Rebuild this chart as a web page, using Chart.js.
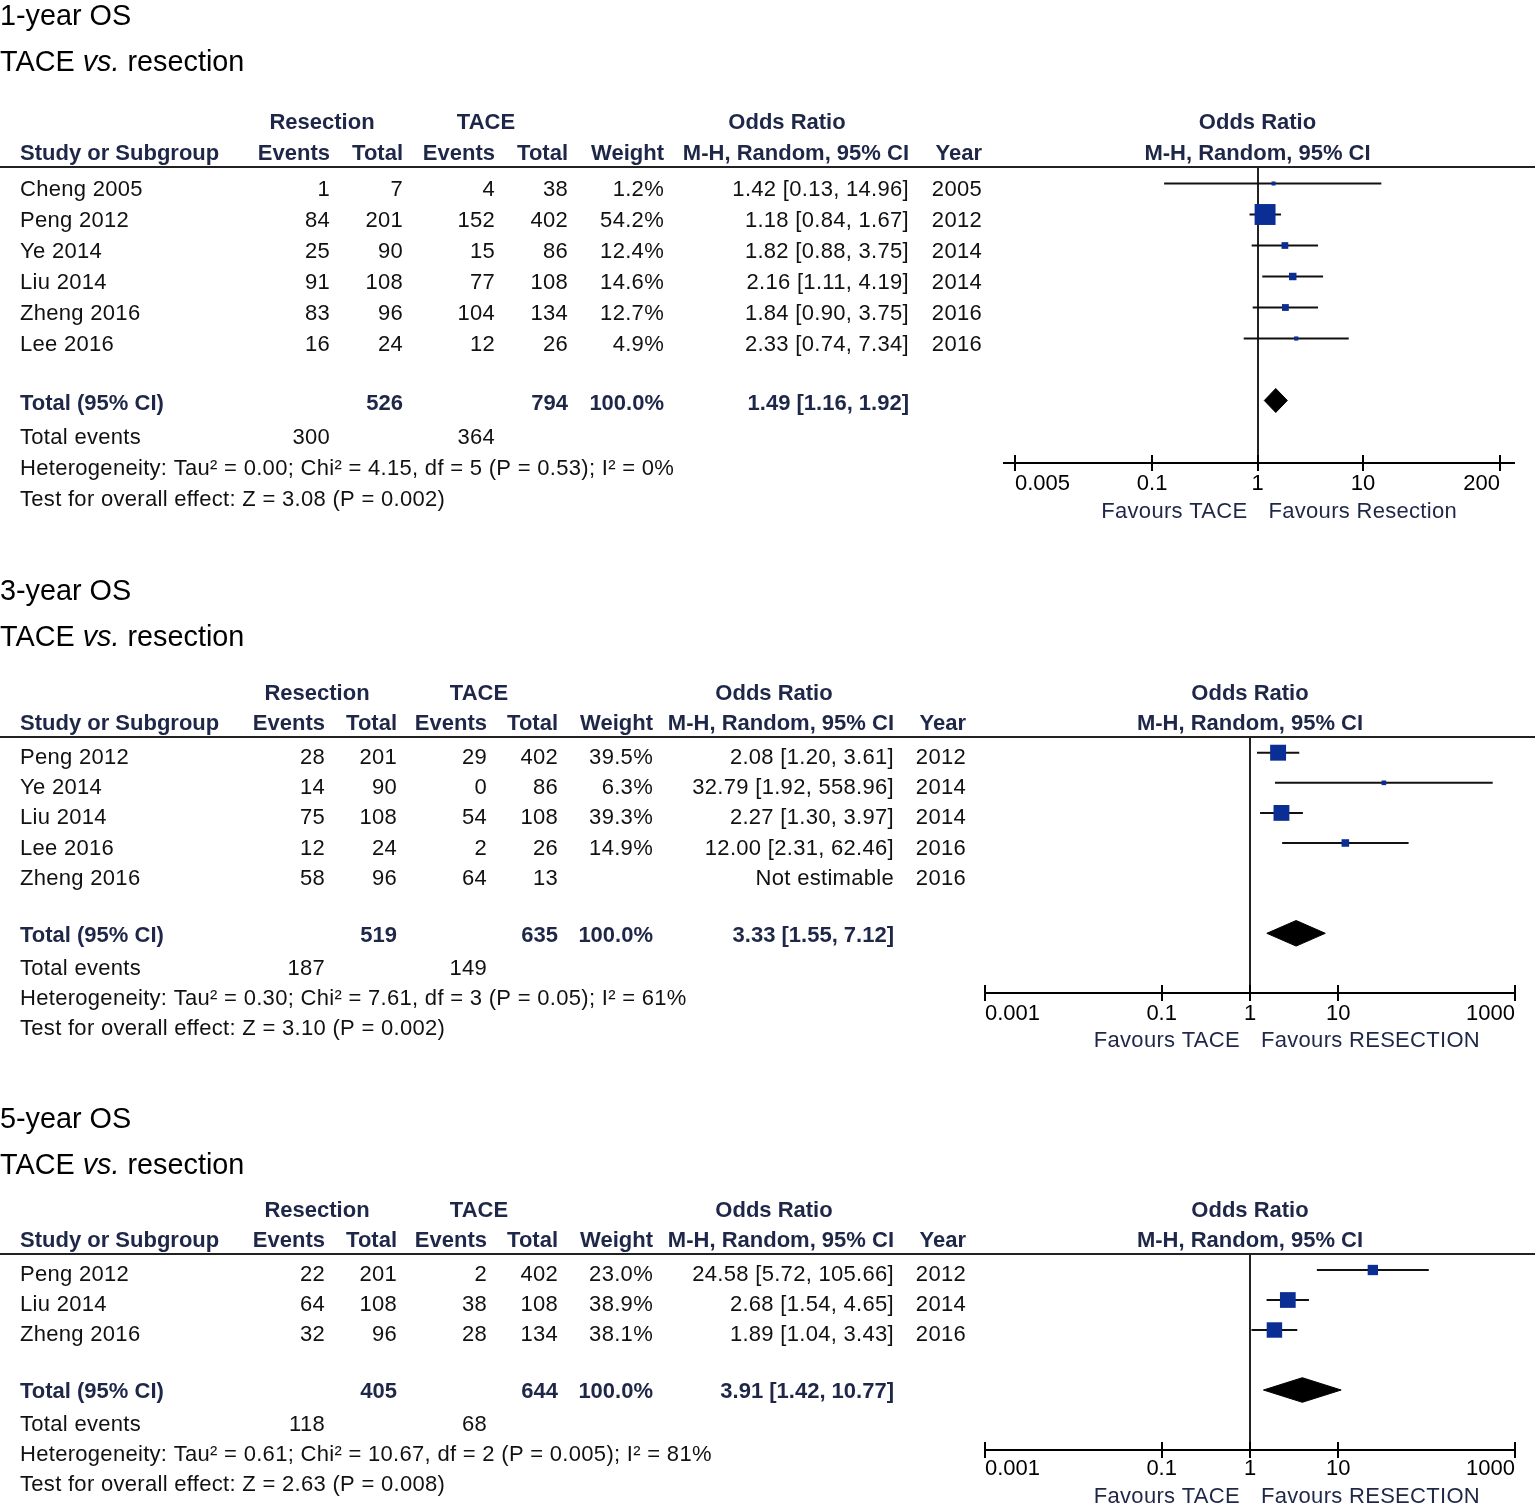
<!DOCTYPE html>
<html>
<head>
<meta charset="utf-8">
<script src="https://cdn.jsdelivr.net/npm/chart.js@4.4.1/dist/chart.umd.min.js"></script>
<style>
  body { margin: 0; background: #fff; width: 1535px; height: 1504px; position: relative; overflow: hidden;
         font-family: "Liberation Sans", Arial, Helvetica, sans-serif; }
  canvas { position: absolute; left: 0; }
  .title { position: absolute; left: 0; font-size: 28.8px; line-height: 32px; color: #000; white-space: nowrap; z-index: 2; }
</style>
</head>
<body>
<div class="title" style="top:-1px">1-year OS</div>
<div class="title" style="top:45px">TACE <i>vs.</i> resection</div>
<div class="title" style="top:574px">3-year OS</div>
<div class="title" style="top:620px">TACE <i>vs.</i> resection</div>
<div class="title" style="top:1102px">5-year OS</div>
<div class="title" style="top:1148px">TACE <i>vs.</i> resection</div>

<canvas id="os1" width="1535" height="535" style="top:0px"></canvas>
<canvas id="os3" width="1535" height="520" style="top:540px"></canvas>
<canvas id="os5" width="1535" height="440" style="top:1064px"></canvas>

<script>
const FONT = '"Liberation Sans", Arial, Helvetica, sans-serif';
const NAVY = '#1f2748';

// 1-year OS
const os1Studies = ['Cheng 2005', 'Peng 2012', 'Ye 2014', 'Liu 2014', 'Zheng 2016', 'Lee 2016'];
const os1ResEvents = [1, 84, 25, 91, 83, 16];
const os1ResTotal = [7, 201, 90, 108, 96, 24];
const os1TaceEvents = [4, 152, 15, 77, 104, 12];
const os1TaceTotal = [38, 402, 86, 108, 134, 26];
const os1Weight = [1.2, 54.2, 12.4, 14.6, 12.7, 4.9];
const os1OR = [1.42, 1.18, 1.82, 2.16, 1.84, 2.33];
const os1Lower = [0.13, 0.84, 0.88, 1.11, 0.90, 0.74];
const os1Upper = [14.96, 1.67, 3.75, 4.19, 3.75, 7.34];
const os1Year = [2005, 2012, 2014, 2014, 2016, 2016];
const os1Pooled = [1.49, 1.16, 1.92];
const os1TotalN = [526, 794];
const os1TotalEvents = [300, 364];
const os1Hetero = 'Heterogeneity: Tau² = 0.00; Chi² = 4.15, df = 5 (P = 0.53); I² = 0%';
const os1Effect = 'Test for overall effect: Z = 3.08 (P = 0.002)';
const os1Ticks = [0.005, 0.1, 1, 10, 200];
const os1TickLabels = ['0.005', '0.1', '1', '10', '200'];
const os1Favours = ['Favours TACE', 'Favours Resection'];

// 3-year OS
const os3Studies = ['Peng 2012', 'Ye 2014', 'Liu 2014', 'Lee 2016', 'Zheng 2016'];
const os3ResEvents = [28, 14, 75, 12, 58];
const os3ResTotal = [201, 90, 108, 24, 96];
const os3TaceEvents = [29, 0, 54, 2, 64];
const os3TaceTotal = [402, 86, 108, 26, 13];
const os3Weight = [39.5, 6.3, 39.3, 14.9, null];
const os3OR = [2.08, 32.79, 2.27, 12.00, null];
const os3Lower = [1.20, 1.92, 1.30, 2.31, null];
const os3Upper = [3.61, 558.96, 3.97, 62.46, null];
const os3Year = [2012, 2014, 2014, 2016, 2016];
const os3Pooled = [3.33, 1.55, 7.12];
const os3TotalN = [519, 635];
const os3TotalEvents = [187, 149];
const os3Hetero = 'Heterogeneity: Tau² = 0.30; Chi² = 7.61, df = 3 (P = 0.05); I² = 61%';
const os3Effect = 'Test for overall effect: Z = 3.10 (P = 0.002)';
const os3Ticks = [0.001, 0.1, 1, 10, 1000];
const os3TickLabels = ['0.001', '0.1', '1', '10', '1000'];
const os3Favours = ['Favours TACE', 'Favours RESECTION'];

// 5-year OS
const os5Studies = ['Peng 2012', 'Liu 2014', 'Zheng 2016'];
const os5ResEvents = [22, 64, 32];
const os5ResTotal = [201, 108, 96];
const os5TaceEvents = [2, 38, 28];
const os5TaceTotal = [402, 108, 134];
const os5Weight = [23.0, 38.9, 38.1];
const os5OR = [24.58, 2.68, 1.89];
const os5Lower = [5.72, 1.54, 1.04];
const os5Upper = [105.66, 4.65, 3.43];
const os5Year = [2012, 2014, 2016];
const os5Pooled = [3.91, 1.42, 10.77];
const os5TotalN = [405, 644];
const os5TotalEvents = [118, 68];
const os5Hetero = 'Heterogeneity: Tau² = 0.61; Chi² = 10.67, df = 2 (P = 0.005); I² = 81%';
const os5Effect = 'Test for overall effect: Z = 2.63 (P = 0.008)';
const os5Ticks = [0.001, 0.1, 1, 10, 1000];
const os5TickLabels = ['0.001', '0.1', '1', '10', '1000'];
const os5Favours = ['Favours TACE', 'Favours RESECTION'];

// column layout of the table part
const colsWide = { name: 20, resEv: 330, resTot: 403, taceEv: 495, taceTot: 568, weight: 664, or: 909, year: 982,
                   resMid: 322, taceMid: 486, orMid: 787 };
const colsNarrow = { name: 20, resEv: 325, resTot: 397, taceEv: 487, taceTot: 558, weight: 653, or: 894, year: 966,
                     resMid: 317, taceMid: 479, orMid: 774 };

function put(ctx, s, x, y, align, bold, color) {
  ctx.font = (bold ? 'bold ' : '') + '22px ' + FONT;
  ctx.letterSpacing = bold ? '0px' : '0.3px';
  ctx.textAlign = align;
  ctx.textBaseline = 'alphabetic';
  ctx.fillStyle = color || (bold ? NAVY : '#111');
  ctx.fillText(s, x, y + 8);
}

function fmtOR(or, lo, hi) {
  if (or == null) return 'Not estimable';
  return or.toFixed(2) + ' [' + lo.toFixed(2) + ', ' + hi.toFixed(2) + ']';
}

// side of the weight box, px
function boxSide(w) {
  return Math.max(4, 2.5 + 0.34 * w);
}

function tablePlugin(d, lay) {
  return {
    id: 'table',
    afterDraw(chart) {
      const ctx = chart.ctx;
      const a = chart.chartArea;
      const xs = chart.scales.x, ys = chart.scales.y;
      const c = lay.cols;
      const n = d.studies.length;
      const rowY = r => ys.getPixelForValue(r) + lay.textShift;
      ctx.save();

      // rule under the headings
      ctx.fillStyle = '#222';
      ctx.fillRect(0, a.top - 1, chart.width, 2);

      // headings
      const h1 = a.top - lay.head1, h2 = a.top - 15;
      put(ctx, 'Resection', c.resMid, h1, 'center', true);
      put(ctx, 'TACE', c.taceMid, h1, 'center', true);
      put(ctx, 'Odds Ratio', c.orMid, h1, 'center', true);
      put(ctx, 'Study or Subgroup', c.name, h2, 'left', true);
      put(ctx, 'Events', c.resEv, h2, 'right', true);
      put(ctx, 'Total', c.resTot, h2, 'right', true);
      put(ctx, 'Events', c.taceEv, h2, 'right', true);
      put(ctx, 'Total', c.taceTot, h2, 'right', true);
      put(ctx, 'Weight', c.weight, h2, 'right', true);
      put(ctx, 'M-H, Random, 95% CI', c.or, h2, 'right', true);
      put(ctx, 'Year', c.year, h2, 'right', true);
      const mid = (a.left + a.right) / 2;
      put(ctx, 'Odds Ratio', mid, h1, 'center', true);
      put(ctx, 'M-H, Random, 95% CI', mid, h2, 'center', true);

      // study rows
      d.studies.forEach((s, i) => {
        const y = rowY(i);
        put(ctx, s, c.name, y, 'left');
        put(ctx, String(d.resEv[i]), c.resEv, y, 'right');
        put(ctx, String(d.resTot[i]), c.resTot, y, 'right');
        put(ctx, String(d.taceEv[i]), c.taceEv, y, 'right');
        put(ctx, String(d.taceTot[i]), c.taceTot, y, 'right');
        if (d.weight[i] != null) put(ctx, d.weight[i].toFixed(1) + '%', c.weight, y, 'right');
        put(ctx, fmtOR(d.or[i], d.lo[i], d.hi[i]), c.or, y, 'right');
        put(ctx, String(d.year[i]), c.year, y, 'right');
      });

      // totals
      let y = rowY(n + 1) - 3;
      put(ctx, 'Total (95% CI)', c.name, y, 'left', true);
      put(ctx, String(d.totalN[0]), c.resTot, y, 'right', true);
      put(ctx, String(d.totalN[1]), c.taceTot, y, 'right', true);
      put(ctx, '100.0%', c.weight, y, 'right', true);
      put(ctx, fmtOR(d.pooled[0], d.pooled[1], d.pooled[2]), c.or, y, 'right', true);
      y = rowY(n + 2);
      put(ctx, 'Total events', c.name, y, 'left');
      put(ctx, String(d.totalEvents[0]), c.resEv, y, 'right');
      put(ctx, String(d.totalEvents[1]), c.taceEv, y, 'right');
      put(ctx, d.hetero, c.name, rowY(n + 3), 'left');
      put(ctx, d.effect, c.name, rowY(n + 4), 'left');

      // upper half of the axis ticks, and axis overhang
      ctx.strokeStyle = '#000';
      ctx.lineWidth = 2;
      ctx.beginPath();
      d.ticks.forEach(v => {
        const x = Math.round(xs.getPixelForValue(v));
        ctx.moveTo(x, a.bottom - 8);
        ctx.lineTo(x, a.bottom);
      });
      if (lay.extend) {
        ctx.moveTo(a.left - lay.extend[0], a.bottom);
        ctx.lineTo(a.left, a.bottom);
        ctx.moveTo(a.right, a.bottom);
        ctx.lineTo(a.right + lay.extend[1], a.bottom);
      }
      ctx.stroke();

      // favours labels
      const x1 = xs.getPixelForValue(1);
      put(ctx, d.favours[0], x1 - 10, a.bottom + lay.favours, 'right', false, NAVY);
      put(ctx, d.favours[1], x1 + 11, a.bottom + lay.favours, 'left', false, NAVY);
      ctx.restore();
    }
  };
}

function makePanel(id, d, lay) {
  const n = d.studies.length;
  const rowTotal = n + 1;
  const yMin = -lay.firstRow / lay.step;
  const yMax = yMin + (lay.axis - lay.header) / lay.step;
  const half = lay.diamond / lay.step;

  const boxPts = [], boxR = [], ciSets = [];
  d.studies.forEach((s, i) => {
    if (d.or[i] == null) return;
    boxPts.push({ x: d.or[i], y: i });
    boxR.push(boxSide(d.weight[i]) / Math.SQRT2);
    ciSets.push({
      order: 2, showLine: true, pointRadius: 0, borderColor: '#111', borderWidth: 2,
      data: [{ x: d.lo[i], y: i }, { x: d.hi[i], y: i }]
    });
  });

  const boxes = {
    order: 0, data: boxPts, pointStyle: 'rect', pointRadius: boxR, pointHoverRadius: boxR,
    backgroundColor: '#0b2e94', borderWidth: 0
  };
  const diamond = {
    order: 1, showLine: true, fill: 'shape', pointRadius: 0, borderColor: '#000', borderWidth: 1,
    backgroundColor: '#000',
    data: [
      { x: d.pooled[1], y: rowTotal },
      { x: d.pooled[0], y: rowTotal - half },
      { x: d.pooled[2], y: rowTotal },
      { x: d.pooled[0], y: rowTotal + half },
      { x: d.pooled[1], y: rowTotal }
    ]
  };

  new Chart(document.getElementById(id), {
    type: 'scatter',
    data: { datasets: [boxes, diamond, ...ciSets] },
    options: {
      responsive: false,
      animation: false,
      events: [],
      layout: { padding: { top: lay.header - lay.top, left: lay.left, right: 1535 - lay.right, bottom: 0 } },
      plugins: { legend: { display: false }, tooltip: { enabled: false } },
      scales: {
        x: {
          type: 'logarithmic',
          min: d.ticks[0],
          max: d.ticks[d.ticks.length - 1],
          afterBuildTicks: s => { s.ticks = d.ticks.map(v => ({ value: v })); },
          afterFit: s => { s.height = lay.top + lay.height - lay.axis; },
          ticks: {
            callback: (v, i) => d.tickLabels[i],
            align: 'inner', autoSkip: false, maxRotation: 0, minRotation: 0,
            padding: lay.tickPad, color: '#000', font: { family: FONT, size: 22 }
          },
          grid: {
            drawOnChartArea: true, drawTicks: true, tickLength: 8,
            color: ctx => (ctx.tick && ctx.tick.value === 1) ? '#222' : 'rgba(0,0,0,0)',
            tickColor: '#000', lineWidth: 2, tickWidth: 2
          },
          border: { display: true, color: '#000', width: 2 }
        },
        y: { type: 'linear', reverse: true, min: yMin, max: yMax, display: false }
      }
    },
    plugins: [tablePlugin(d, lay)]
  });
}

makePanel('os1', {
  studies: os1Studies, resEv: os1ResEvents, resTot: os1ResTotal, taceEv: os1TaceEvents, taceTot: os1TaceTotal,
  weight: os1Weight, or: os1OR, lo: os1Lower, hi: os1Upper, year: os1Year, pooled: os1Pooled,
  totalN: os1TotalN, totalEvents: os1TotalEvents, hetero: os1Hetero, effect: os1Effect,
  ticks: os1Ticks, tickLabels: os1TickLabels, favours: os1Favours
}, { top: 0, height: 535, header: 167, axis: 463, left: 1015, right: 1500, step: 31, firstRow: 16.5,
     diamond: 12, textShift: 4, head1: 46, favours: 47, tickPad: 0, extend: [12, 15], cols: colsWide });

makePanel('os3', {
  studies: os3Studies, resEv: os3ResEvents, resTot: os3ResTotal, taceEv: os3TaceEvents, taceTot: os3TaceTotal,
  weight: os3Weight, or: os3OR, lo: os3Lower, hi: os3Upper, year: os3Year, pooled: os3Pooled,
  totalN: os3TotalN, totalEvents: os3TotalEvents, hetero: os3Hetero, effect: os3Effect,
  ticks: os3Ticks, tickLabels: os3TickLabels, favours: os3Favours
}, { top: 540, height: 520, header: 737, axis: 993, left: 985, right: 1515, step: 30.1, firstRow: 15.7,
     diamond: 12.8, textShift: 3.5, head1: 45, favours: 46, tickPad: 0, extend: null, cols: colsNarrow });

makePanel('os5', {
  studies: os5Studies, resEv: os5ResEvents, resTot: os5ResTotal, taceEv: os5TaceEvents, taceTot: os5TaceTotal,
  weight: os5Weight, or: os5OR, lo: os5Lower, hi: os5Upper, year: os5Year, pooled: os5Pooled,
  totalN: os5TotalN, totalEvents: os5TotalEvents, hetero: os5Hetero, effect: os5Effect,
  ticks: os5Ticks, tickLabels: os5TickLabels, favours: os5Favours
}, { top: 1064, height: 440, header: 1254, axis: 1450, left: 985, right: 1515, step: 30, firstRow: 16,
     diamond: 12.3, textShift: 3, head1: 45, favours: 45, tickPad: -2, extend: null, cols: colsNarrow });
</script>
</body>
</html>
